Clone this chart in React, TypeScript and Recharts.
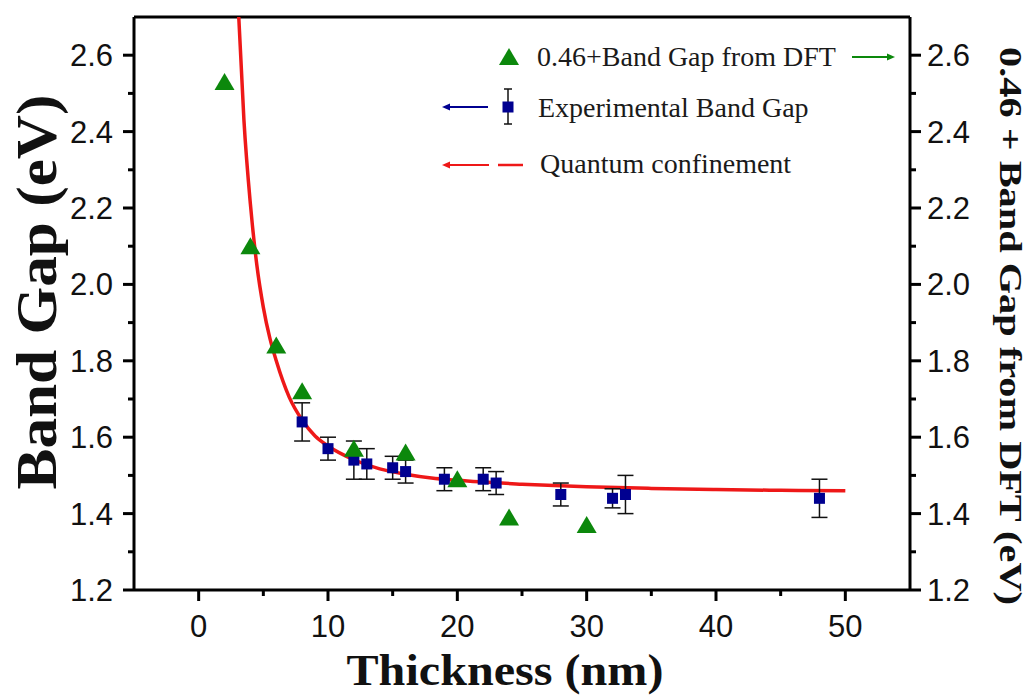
import React from 'react';
import {
  ComposedChart, Line, Scatter, ErrorBar, XAxis, YAxis, ReferenceLine, Legend, Label,
} from 'recharts';

// quantum confinement fit
const CURVE_X = [3.1, 3.5, 4, 4.5, 5, 5.5, 6, 7, 8, 9, 10, 12, 14, 16, 18, 20, 25, 30, 35, 40, 45, 50];
const CURVE_Y = [2.7, 2.43, 2.21, 2.05, 1.94, 1.86, 1.8, 1.705, 1.645, 1.603, 1.577, 1.541, 1.517, 1.503, 1.493, 1.487, 1.477, 1.47, 1.466, 1.463, 1.461, 1.46];

// experimental band gap with error bars
const EXP_X = [8, 10, 12, 13, 15, 16, 19, 22, 23, 28, 32, 33, 48];
const EXP_Y = [1.64, 1.57, 1.54, 1.53, 1.52, 1.51, 1.49, 1.49, 1.48, 1.45, 1.44, 1.45, 1.44];
const EXP_ERR = [0.05, 0.03, 0.05, 0.04, 0.03, 0.03, 0.03, 0.03, 0.03, 0.03, 0.025, 0.05, 0.05];

// 0.46 + DFT band gap
const DFT_X = [2, 4, 6, 8, 12, 16, 20, 24, 30];
const DFT_Y = [2.53, 2.1, 1.84, 1.72, 1.57, 1.56, 1.49, 1.39, 1.37];

const X_TICKS = [0, 5, 10, 15, 20, 25, 30, 35, 40, 45, 50];
const Y_TICKS = [1.2, 1.3, 1.4, 1.5, 1.6, 1.7, 1.8, 1.9, 2.0, 2.1, 2.2, 2.3, 2.4, 2.5, 2.6];

const curveData = CURVE_X.map((x, i) => ({ x, y: CURVE_Y[i] }));
const expData = EXP_X.map((x, i) => ({ x, y: EXP_Y[i], err: EXP_ERR[i] }));
const dftData = DFT_X.map((x, i) => ({ x, y: DFT_Y[i] }));

const GREEN = '#0c880c';
const NAVY = '#000090';
const RED = '#ee1818';
const SANS = '"Liberation Sans", Arial, sans-serif';
const SERIF = '"Liberation Serif", "Times New Roman", serif';

function XTick(props: any) {
  const { x, y, payload } = props;
  const major = payload.value % 10 === 0;
  return (
    <g>
      <line x1={x} x2={x} y1={y} y2={y + (major ? 11 : 6)} stroke="#000" strokeWidth={3} />
      {major && (
        <text x={x} y={y + 47} textAnchor="middle" fontSize={31} fontFamily={SANS} fill="#111">
          {payload.value}
        </text>
      )}
    </g>
  );
}

function YTick(props: any) {
  const { x, y, payload, side } = props;
  const major = Math.round(payload.value * 10) % 2 === 0;
  const dir = side === 'right' ? 1 : -1;
  return (
    <g>
      <line x1={x} x2={x + dir * (major ? 11 : 6)} y1={y} y2={y} stroke="#000" strokeWidth={3} />
      {major && (
        <text
          x={side === 'right' ? x + 17 : x - 21}
          y={y + 11}
          textAnchor={side === 'right' ? 'start' : 'end'}
          fontSize={31}
          fontFamily={SANS}
          fill="#111"
        >
          {payload.value.toFixed(1)}
        </text>
      )}
    </g>
  );
}

function Square(props: any) {
  const { cx, cy } = props;
  return <rect x={cx - 5.5} y={cy - 5.5} width={11} height={11} fill={NAVY} />;
}

function Triangle(props: any) {
  const { cx, cy } = props;
  return <path d={`M${cx},${cy - 9} L${cx + 10},${cy + 8} L${cx - 10},${cy + 8} Z`} fill={GREEN} />;
}

function Arrow({ x1, x2, y, color }: { x1: number; x2: number; y: number; color: string }) {
  // arrowhead sits at x2
  const d = x2 > x1 ? 1 : -1;
  return (
    <g>
      <line x1={x1} x2={x2 - d * 6} y1={y} y2={y} stroke={color} strokeWidth={2} />
      <path d={`M${x2},${y} L${x2 - d * 8},${y - 3.5} L${x2 - d * 8},${y + 3.5} Z`} fill={color} />
    </g>
  );
}

function LegendBox() {
  const txt = { fontSize: 28, fontFamily: SERIF, fill: '#1a1a1a' };
  return (
    <svg width={480} height={160} style={{ display: 'block' }}>
      {/* DFT */}
      <path d="M79,18 L89,35 L69,35 Z" fill={GREEN} />
      <text x={107} y={36} {...txt}>0.46+Band Gap from DFT</text>
      <Arrow x1={422} x2={465} y={27} color={GREEN} />
      {/* experimental */}
      <Arrow x1={58} x2={12} y={77} color={NAVY} />
      <line x1={78} x2={78} y1={59} y2={94} stroke="#111" strokeWidth={1.5} />
      <line x1={74} x2={82} y1={59} y2={59} stroke="#111" strokeWidth={1.5} />
      <line x1={74} x2={82} y1={94} y2={94} stroke="#111" strokeWidth={1.5} />
      <rect x={72.5} y={71.5} width={11} height={11} fill={NAVY} />
      <text x={108} y={87} {...txt}>Experimental Band Gap</text>
      {/* fit */}
      <Arrow x1={59} x2={12} y={135} color={RED} />
      <line x1={68} x2={93} y1={135} y2={135} stroke={RED} strokeWidth={2.5} />
      <text x={110} y={143} {...txt}>Quantum confinement</text>
    </svg>
  );
}

export default function App() {
  return (
    <div style={{ position: 'absolute', left: 0, top: 0, width: 1032, height: 698, background: '#fff' }}>
      <ComposedChart width={1032} height={698} margin={{ top: 17, right: 0, bottom: 0, left: 0 }}>
        <XAxis
          type="number"
          dataKey="x"
          domain={[-5, 55]}
          ticks={X_TICKS}
          height={108}
          tickSize={0}
          tickMargin={0}
          tickLine={false}
          tick={<XTick />}
          axisLine={{ stroke: '#000', strokeWidth: 3 }}
          allowDataOverflow
        >
          <Label
            content={() => (
              <text x={505} y={685} textAnchor="middle" fontSize={44} fontWeight="bold" fontFamily={SERIF}
                textLength={317} lengthAdjust="spacingAndGlyphs" fill="#111">
                Thickness (nm)
              </text>
            )}
          />
        </XAxis>
        <YAxis
          yAxisId="left"
          type="number"
          dataKey="y"
          domain={[1.2, 2.7]}
          ticks={Y_TICKS}
          width={134}
          tickSize={0}
          tickMargin={0}
          tickLine={false}
          tick={<YTick side="left" />}
          axisLine={{ stroke: '#000', strokeWidth: 3 }}
          allowDataOverflow
        >
          <Label
            content={() => (
              <text transform="translate(56,292) rotate(-90)" textAnchor="middle" fontSize={58} fontWeight="bold"
                fontFamily={SERIF} textLength={395} lengthAdjust="spacingAndGlyphs" fill="#111">
                Band Gap (eV)
              </text>
            )}
          />
        </YAxis>
        <YAxis
          yAxisId="right"
          orientation="right"
          type="number"
          dataKey="y"
          domain={[1.2, 2.7]}
          ticks={Y_TICKS}
          width={122}
          tickSize={0}
          tickMargin={0}
          tickLine={false}
          tick={<YTick side="right" />}
          axisLine={{ stroke: '#000', strokeWidth: 3 }}
          allowDataOverflow
        >
          <Label
            content={() => (
              <text transform="translate(1000,326) rotate(90)" textAnchor="middle" fontSize={31} fontWeight="bold"
                fontFamily={SERIF} textLength={558} lengthAdjust="spacingAndGlyphs" fill="#111">
                0.46 + Band Gap from DFT (eV)
              </text>
            )}
          />
        </YAxis>
        <ReferenceLine yAxisId="left" y={2.7} stroke="#000" strokeWidth={3} />
        <Line
          yAxisId="left"
          data={curveData}
          dataKey="y"
          type="monotone"
          stroke={RED}
          strokeWidth={3.5}
          dot={false}
          activeDot={false}
          isAnimationActive={false}
        />
        <Scatter yAxisId="left" data={expData} dataKey="y" shape={<Square />} isAnimationActive={false}>
          <ErrorBar dataKey="err" direction="y" width={8} stroke="#111" strokeWidth={1.5} isAnimationActive={false} />
        </Scatter>
        <Scatter yAxisId="right" data={dftData} dataKey="y" shape={<Triangle />} isAnimationActive={false} />
        <Legend
          layout="horizontal"
          verticalAlign="middle"
          align="center"
          content={() => <LegendBox />}
          wrapperStyle={{ left: 430, top: 30, width: 480, height: 160 }}
        />
      </ComposedChart>
    </div>
  );
}
